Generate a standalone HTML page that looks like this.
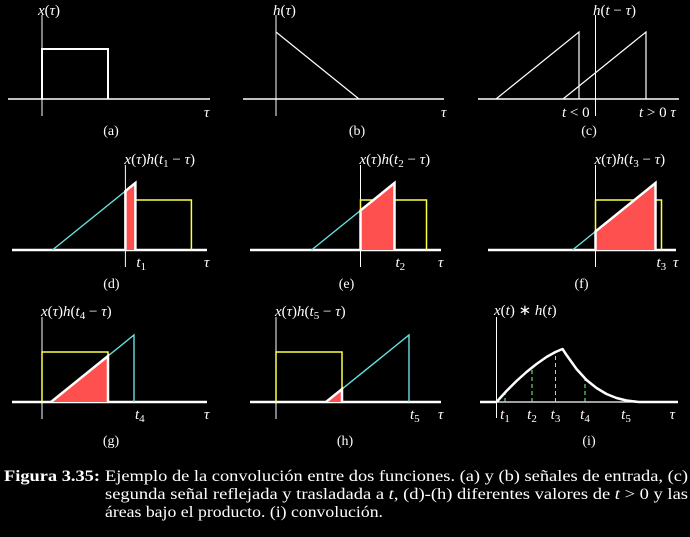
<!DOCTYPE html>
<html><head><meta charset="utf-8"><style>
html,body{margin:0;padding:0;background:#000;}
svg{display:block;}
text{font-family:"Liberation Serif",serif;fill:#fff;}
.it{font-style:italic;}
</style></head><body>
<svg id="fig" width="690" height="537" viewBox="0 0 690 537" xmlns="http://www.w3.org/2000/svg">
<g id="g"></g>
<g>
<text x="4" y="481" font-size="15.5" font-weight="bold" textLength="96" lengthAdjust="spacingAndGlyphs">Figura 3.35:</text>
<text x="105" y="481" font-size="15.5" textLength="583" lengthAdjust="spacingAndGlyphs">Ejemplo de la convolución entre dos funciones.  (a) y (b) señales de entrada, (c)</text>
<text x="105" y="499" font-size="15.5" textLength="583" lengthAdjust="spacingAndGlyphs">segunda señal reflejada y trasladada a <tspan class="it">t</tspan>, (d)-(h) diferentes valores de <tspan class="it">t</tspan> &gt; 0 y las</text>
<text x="105" y="517" font-size="15.5" textLength="278" lengthAdjust="spacingAndGlyphs">áreas bajo el producto. (i) convolución.</text>
</g>
</svg>
<script>
// data
const rectWidth = 66, rectHeight = 50;
const triWidth = 83, triHeight = 67;
const shiftT = [10, 34, 60, 92, 133];
const convT = [0, 5, 10, 20, 30, 40, 50, 59, 66, 70, 80, 90, 100, 110, 120, 130, 142];
const convY = [0, 5.5, 11, 21, 30, 38, 45, 50, 53, 47, 33, 22, 14, 8, 4, 1.5, 0];
const markT = [8.5, 35.5, 59, 88.5, 129.5];

const NS = "http://www.w3.org/2000/svg";
const G = document.getElementById('g');
function el(tag, attrs, parent){
  const e = document.createElementNS(NS, tag);
  for (const k in attrs) e.setAttribute(k, attrs[k]);
  (parent||G).appendChild(e); return e;
}
function txt(x,y,s,size,cls,parent,anchor){
  const t = el('text',{x:x,y:y,'font-size':size,'text-anchor':anchor||'start'},parent);
  if(cls) t.setAttribute('class',cls);
  t.innerHTML = s; return t;
}
function sub(n){return '<tspan class="it">t</tspan><tspan font-size="11" dy="3">'+n+'</tspan>';}
function axes(ox,oy,x0,x1,y0,y1,parent,axw){
  const a = el('line',{x1:x0,y1:oy,x2:x1,y2:oy,stroke:'#fff','stroke-width':axw||1.5},parent);
   
  const b = el('line',{x1:ox,y1:y0,x2:ox,y2:y1,stroke:'#fff','stroke-width':1},parent);
   
}
function group(name){
  const g = el('g',{});
  
  
  return g;
}
const FS = 15;
// (a)
{ const p = group('panel-a'); const ox=42, oy=99;
  axes(ox,oy,8,210,15,116,p);
  const r = el('polyline',{points:`${ox},${oy} ${ox},${oy-rectHeight} ${ox+rectWidth},${oy-rectHeight} ${ox+rectWidth},${oy}`,fill:'none',stroke:'#fff','stroke-width':2},p);
   
  txt(38,15,'<tspan class="it">x</tspan>(<tspan class="it">τ</tspan>)',FS,null,p);
  txt(204,117,'τ',FS,'it',p); txt(111,135,'(a)',14,null,p,'middle'); }
// (b)
{ const p = group('panel-b'); const ox=276, oy=99;
  axes(ox,oy,243,444,15,116,p);
  const r = el('polyline',{points:`${ox},${oy-triHeight} ${ox+triWidth},${oy}`,fill:'none',stroke:'#fff','stroke-width':1.2},p);
   
  txt(273,15,'<tspan class="it">h</tspan>(<tspan class="it">τ</tspan>)',FS,null,p);
  txt(441,117,'τ',FS,'it',p); txt(357,135,'(b)',14,null,p,'middle'); }
// (c)
{ const p = group('panel-c'); const ox=595.5, oy=99;
  axes(ox,oy,478,679,15,116,p);
  [579,646].forEach(px=>{
    const r = el('polyline',{points:`${px-triWidth},${oy} ${px},${oy-triHeight} ${px},${oy}`,fill:'none',stroke:'#fff','stroke-width':1.2},p);
     
  });
  txt(593,15,'<tspan class="it">h</tspan>(<tspan class="it">t</tspan> − <tspan class="it">τ</tspan>)',FS,null,p);
  txt(562,117,'<tspan class="it">t</tspan> &lt; 0',FS,null,p);
  txt(639,117,'<tspan class="it">t</tspan> &gt; 0 <tspan class="it">τ</tspan>',FS,null,p);
  txt(589,135,'(c)',14,null,p,'middle'); }
// product panels
const origins = [[125.4,250,12,207],[360.5,250,250,441],[595.5,250,488,676],[42,402,12,207],[276,402,250,441]];
const letters = ['d','e','f','g','h'];
shiftT.forEach((t,i)=>{
  const [ox,oy,x0,x1] = origins[i];
  const p = group('panel-'+letters[i]);
  axes(ox,oy,x0,x1,oy-85,oy+17,p,2.5);
  const y = el('polyline',{points:`${ox},${oy} ${ox},${oy-rectHeight} ${ox+rectWidth},${oy-rectHeight} ${ox+rectWidth},${oy}`,fill:'none',stroke:'#ffff44','stroke-width':1.5},p);
   
  const tx=ox+t;
  const c = el('polyline',{points:`${tx-triWidth},${oy} ${tx},${oy-triHeight} ${tx},${oy}`,fill:'none',stroke:'#66e0e0','stroke-width':1.4},p);
   
  const a = Math.max(0,t-triWidth), b = Math.min(rectWidth,t);
  if(b>a){
    const hA = triHeight*(a-(t-triWidth))/triWidth, hB = triHeight*(b-(t-triWidth))/triWidth;
    const f = el('polygon',{points:`${ox+a},${oy} ${ox+a},${oy-hA} ${ox+b},${oy-hB} ${ox+b},${oy}`,fill:'#ff5050',stroke:'none'},p);
     
    const o = el('polyline',{points:`${ox+a},${oy} ${ox+a},${oy-hA} ${ox+b},${oy-hB} ${ox+b},${oy}`,fill:'none',stroke:'#fff','stroke-width':2.5},p);
     
  }
  txt(ox-1,oy-86,'<tspan class="it">x</tspan>(<tspan class="it">τ</tspan>)<tspan class="it">h</tspan>(<tspan class="it">t</tspan><tspan font-size="11" dy="3">'+(i+1)+'</tspan><tspan dy="-3"> − </tspan><tspan class="it">τ</tspan>)',FS,null,p);
  txt(tx+1,oy+17,sub(i+1),FS,null,p);
  txt(x1-3,oy+17,'τ',FS,'it',p);
  txt(ox+(i<3?-14:69),oy+(i<3?38:43),'('+letters[i]+')',14,null,p,'middle');
});
// (i)
{ const p = group('panel-i'); const ox=496.5, oy=402;
  axes(ox,oy,480,678,317,418,p,1.2);
  const sx = v=>ox+v, sy = v=>oy-v;
  markT.forEach((m,k)=>{
    let j=0; while(j<convT.length-2 && convT[j+1]<m) j++;
    const h = convY[j]+(convY[j+1]-convY[j])*(m-convT[j])/(convT[j+1]-convT[j]);
    const d = el('line',{x1:sx(m),y1:oy,x2:sx(m),y2:sy(h),stroke:'#7fff7f','stroke-width':1,'stroke-dasharray':'4,3'},p);
     
    txt(sx(m),oy+17,sub(k+1),FS,null,p,'middle');
  });
  const pts = convT.map((v,k)=>`${sx(v)},${sy(convY[k])}`).join(' ');
  const base = el('line',{x1:480,y1:oy,x2:ox,y2:oy,stroke:'#fff','stroke-width':2.5},p);
   
  const tail = el('line',{x1:sx(142),y1:oy,x2:678,y2:oy,stroke:'#fff','stroke-width':2.5},p);
   
  const cv = el('polyline',{points:pts,fill:'none',stroke:'#fff','stroke-width':2.5,'stroke-linejoin':'round'},p);
   
  txt(494,315,'<tspan class="it">x</tspan>(<tspan class="it">t</tspan>) ∗ <tspan class="it">h</tspan>(<tspan class="it">t</tspan>)',FS,null,p);
  txt(675,419,'τ',FS,'it',p,'end');
  txt(589,445,'(i)',14,null,p,'middle'); }
</script>
</body></html>
